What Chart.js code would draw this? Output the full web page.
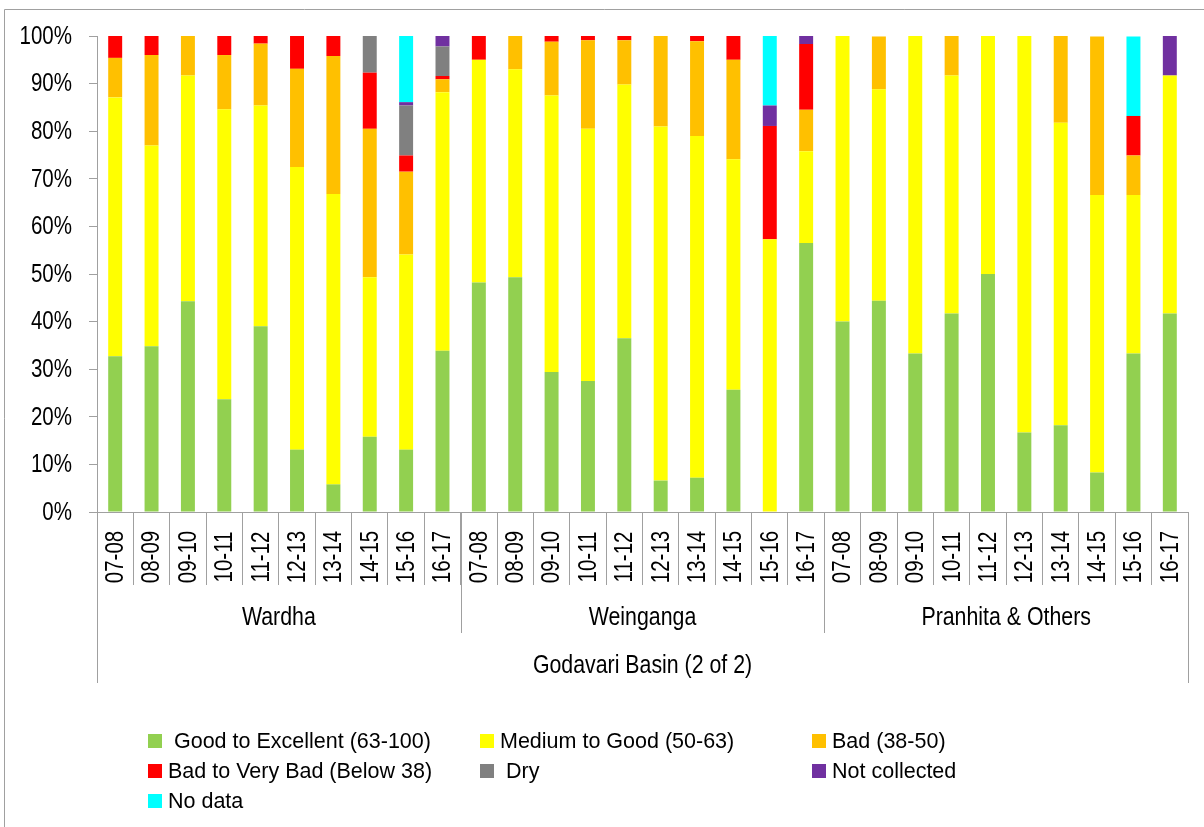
<!DOCTYPE html>
<html>
<head>
<meta charset="utf-8">
<script src="https://cdn.jsdelivr.net/npm/chart.js@4.4.1/dist/chart.umd.min.js"></script>
<style>
  body { margin: 0; background: #fff; }
  #wrap { width: 1204px; height: 827px; position: relative; }
</style>
</head>
<body>
<div id="wrap"><canvas id="basinChart"></canvas></div>
<script>
// categories
var years = ['07-08', '08-09', '09-10', '10-11', '11-12', '12-13', '13-14', '14-15', '15-16', '16-17'];
var groups = ['Wardha', 'Weinganga', 'Pranhita & Others'];
var basinLabel = 'Godavari Basin (2 of 2)';

// series values (% of stations), Wardha | Weinganga | Pranhita & Others
var goodToExcellent = [32.7, 34.8, 44.3, 23.7, 39.0, 13.1, 5.8, 15.8, 13.1, 33.9,
                       48.2, 49.3, 29.4, 27.5, 36.5, 6.6, 7.2, 25.7, 0, 56.5,
                       40.0, 44.4, 33.3, 41.7, 50.0, 16.7, 18.2, 8.3, 33.3, 41.7];
var mediumToGood = [54.4, 42.2, 47.4, 60.9, 46.4, 59.4, 61.0, 33.5, 41.0, 54.3,
                    46.8, 43.7, 58.1, 53.0, 53.3, 74.4, 71.8, 48.4, 57.3, 19.3,
                    60.0, 44.4, 66.7, 50.0, 50.0, 83.3, 63.6, 58.3, 33.3, 50.0];
var bad = [8.3, 19.0, 8.3, 11.4, 13.0, 20.6, 29.0, 31.2, 17.4, 2.7,
           0, 7.0, 11.3, 18.6, 9.3, 19.0, 19.9, 20.9, 0, 8.7,
           0, 11.1, 0, 8.3, 0, 0, 18.2, 33.3, 8.3, 0];
var badToVeryBad = [4.6, 4.0, 0, 4.0, 1.6, 6.9, 4.2, 11.8, 3.4, 0.7,
                    5.0, 0, 1.2, 0.9, 0.9, 0, 1.1, 5.0, 23.8, 13.8,
                    0, 0, 0, 0, 0, 0, 0, 0, 8.3, 0];
var dry = [0, 0, 0, 0, 0, 0, 0, 7.7, 10.5, 6.2,
           0, 0, 0, 0, 0, 0, 0, 0, 0, 0,
           0, 0, 0, 0, 0, 0, 0, 0, 0, 0];
var notCollected = [0, 0, 0, 0, 0, 0, 0, 0, 0.7, 2.2,
                    0, 0, 0, 0, 0, 0, 0, 0, 4.3, 1.7,
                    0, 0, 0, 0, 0, 0, 0, 0, 0, 8.3];
var noData = [0, 0, 0, 0, 0, 0, 0, 0, 13.9, 0,
              0, 0, 0, 0, 0, 0, 0, 0, 14.6, 0,
              0, 0, 0, 0, 0, 0, 0, 0, 16.7, 0];

var labels = [];
groups.forEach(function(g) {
	years.forEach(function(y) { labels.push(y); });
});

var regular = "'Liberation Sans', Arial, sans-serif";
var axisGray = '#a0a0a0';
var squeeze = 0.82; // narrow look of the original axis font

// multi-level category labels, y labels, frame and legend
var basinAxisPlugin = {
	id: 'basinAxis',
	afterDraw: function(chart) {
		var ctx = chart.ctx;
		var xs = chart.scales.x;
		var ys = chart.scales.y;
		var area = chart.chartArea;
		var step = xs.getPixelForValue(1) - xs.getPixelForValue(0);
		var n = years.length;

		function narrowText(text, x, y, size, align, angle) {
			ctx.save();
			ctx.translate(x, y);
			if (angle) ctx.rotate(angle);
			ctx.scale(squeeze, 1);
			ctx.font = size + 'px ' + regular;
			ctx.textAlign = align;
			ctx.textBaseline = 'middle';
			ctx.fillText(text, 0, 0);
			ctx.restore();
		}

		ctx.save();
		ctx.strokeStyle = axisGray;
		ctx.lineWidth = 1;
		function vline(x, y0, y1) {
			x = Math.round(x) + 0.5;
			ctx.beginPath();
			ctx.moveTo(x, y0);
			ctx.lineTo(x, y1);
			ctx.stroke();
		}
		var firstLeft = xs.getPixelForValue(0) - step / 2;
		var lastRight = xs.getPixelForValue(labels.length - 1) + step / 2;
		for (var g = 1; g < groups.length; g++) {
			vline(xs.getPixelForValue(g * n) - step / 2, area.bottom, 633);
		}
		vline(firstLeft, area.bottom, 683);
		vline(lastRight, area.bottom, 683);

		// frame
		ctx.beginPath();
		ctx.moveTo(4.5, 827);
		ctx.lineTo(4.5, 9.5);
		ctx.lineTo(1204, 9.5);
		ctx.stroke();

		ctx.fillStyle = '#000';
		ys.ticks.forEach(function(t) {
			narrowText(t.value + '%', 72, ys.getPixelForValue(t.value) + 1, 25, 'right');
		});

		labels.forEach(function(l, i) {
			narrowText(l, xs.getPixelForValue(i) + 1, 557, 25, 'center', -Math.PI / 2);
		});

		groups.forEach(function(gname, gi) {
			var c = (xs.getPixelForValue(gi * n) + xs.getPixelForValue(gi * n + n - 1)) / 2;
			narrowText(gname, c, 618, 26, 'center');
		});
		narrowText(basinLabel, (firstLeft + lastRight) / 2, 666, 26, 'center');

		// legend, 3 columns
		var cols = [148, 480, 812];
		var rows = [741, 771, 801];
		ctx.textAlign = 'left';
		ctx.textBaseline = 'middle';
		ctx.font = '21.5px ' + regular;
		chart.data.datasets.forEach(function(ds, i) {
			var cx = cols[i % 3];
			var cy = rows[Math.floor(i / 3)];
			ctx.fillStyle = ds.backgroundColor;
			ctx.fillRect(cx, cy - 7, 14, 14);
			ctx.fillStyle = '#000';
			ctx.fillText(ds.label, cx + 20, cy + 1);
		});
		ctx.restore();
	}
};

var ctx = document.getElementById('basinChart').getContext('2d');
var myChart = new Chart(ctx, {
	type: 'bar',
	data: {
		labels: labels,
		datasets: [
			{ label: ' Good to Excellent (63-100)', data: goodToExcellent, backgroundColor: '#92D050' },
			{ label: 'Medium to Good (50-63)', data: mediumToGood, backgroundColor: '#FFFF00' },
			{ label: 'Bad (38-50)', data: bad, backgroundColor: '#FFC000' },
			{ label: 'Bad to Very Bad (Below 38)', data: badToVeryBad, backgroundColor: '#FF0000' },
			{ label: ' Dry', data: dry, backgroundColor: '#808080' },
			{ label: 'Not collected', data: notCollected, backgroundColor: '#7030A0' },
			{ label: 'No data', data: noData, backgroundColor: '#00FFFF' }
		]
	},
	options: {
		responsive: true,
		maintainAspectRatio: false,
		animation: false,
		datasets: {
			bar: {
				categoryPercentage: 0.8,
				barPercentage: 0.48
			}
		},
		layout: {
			padding: { top: 36, right: 16, bottom: 242, left: 0 }
		},
		scales: {
			x: {
				stacked: true,
				grid: {
					offset: true,
					drawOnChartArea: false,
					color: axisGray,
					tickLength: 73
				},
				border: { color: axisGray },
				ticks: { display: false }
			},
			y: {
				stacked: true,
				min: 0,
				max: 100,
				afterFit: function(scale) {
					scale.width = 97;
				},
				grid: {
					drawOnChartArea: false,
					color: axisGray,
					tickLength: 8
				},
				border: { color: axisGray },
				ticks: {
					display: false,
					stepSize: 10
				}
			}
		},
		plugins: {
			legend: { display: false },
			tooltip: { enabled: false }
		}
	},
	plugins: [basinAxisPlugin]
});
</script>
</body>
</html>
